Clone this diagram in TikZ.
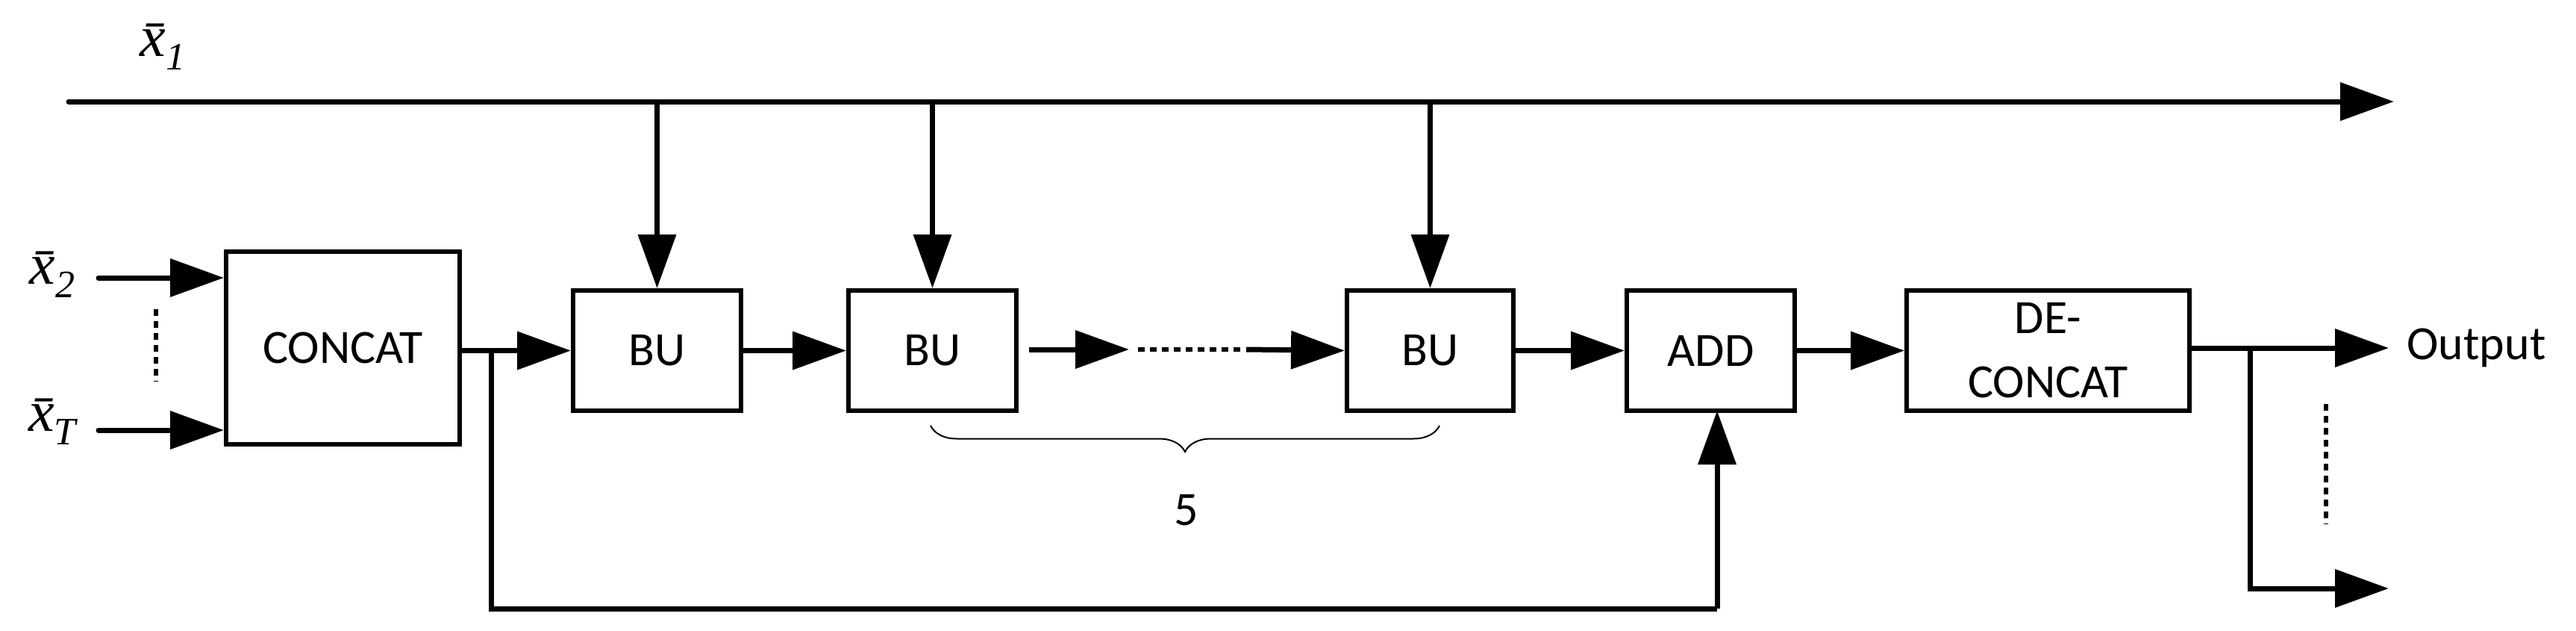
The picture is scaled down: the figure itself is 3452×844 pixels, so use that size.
\documentclass[tikz,border=0pt]{standalone}
\usepackage{fontspec}
\setmainfont{Carlito}
\newfontfamily\xserif{Liberation Serif}
\usetikzlibrary{arrows.meta,decorations.pathreplacing}
\newcommand{\xbar}[1]{{\xserif\itshape\={x}\raisebox{-18pt}{\fontsize{52}{52}\selectfont #1}}}
\begin{document}
\begin{tikzpicture}[x=1pt,y=-1pt,
  box/.style={draw,line width=6pt,minimum width=0pt,inner sep=0pt,font=\fontsize{64}{86}\selectfont,align=center},
  conn/.style={line width=7pt,-{Triangle[length=72pt,width=50pt]}},
  plain/.style={line width=7pt},
  dots/.style={line width=6pt,dash pattern=on 9pt off 7pt},
  lbl/.style={font=\fontsize{64}{70}\selectfont},
  xl/.style={font=\fontsize{78}{78}\selectfont}]
\useasboundingbox (0,0) rectangle (3452,844);
\node[box,minimum width=313pt,minimum height=258pt] (cc) at (459.5,466) {CONCAT};
\node[box,minimum width=225pt,minimum height=161pt] (bu1) at (880.5,469.5) {BU};
\node[box,minimum width=225pt,minimum height=161pt] (bu2) at (1249.5,469.5) {BU};
\node[box,minimum width=223pt,minimum height=161pt] (bu3) at (1916.5,469.5) {BU};
\node[box,minimum width=225pt,minimum height=161pt] (add) at (2292.5,469.5) {ADD};
\node[box,minimum width=379pt,minimum height=161pt] (dc) at (2744.5,469.5) {DE-\\CONCAT};
\node[lbl,anchor=west] (out) at (3222,466) {Output};
\node[xl] (x1) at (218,63) {\xbar{\itshape 1}};
\node[xl] (x2) at (70,368) {\xbar{2}};
\node[xl] (xT) at (70,565) {\xbar{\itshape T}};
\node[lbl] (five) at (1590,683) {5};
\coordinate (t0) at (92,136);
\coordinate (t1) at (3208,136);
\coordinate (a2) at (132,372);
\coordinate (aT) at (132,576);
\coordinate (br) at (658,468);
\coordinate (bl) at (658,815);
\coordinate (bl2) at (2301,815);
\coordinate (d0) at (1379,468);
\coordinate (d1) at (1513,468);
\coordinate (d2) at (1525,468);
\coordinate (d3) at (1662,468);
\coordinate (d4) at (1670,468);
\coordinate (ob) at (3015,466);
\coordinate (ob2) at (3015,788);
\coordinate (oe2) at (3201,788);
\coordinate (oe) at (3201,466);
\draw[conn,line cap=round] (t0) -- (t1);
\draw[conn] (bu1.north |- t0) -- (bu1.north);
\draw[conn] (bu2.north |- t0) -- (bu2.north);
\draw[conn] (bu3.north |- t0) -- (bu3.north);
\draw[conn,line cap=round] (a2) -- (cc.west |- a2);
\draw[conn,line cap=round] (aT) -- (cc.west |- aT);
\draw[dots] (209,414) -- (209,511);
\draw[conn] (cc.east |- bu1.west) -- (bu1.west);
\draw[conn] (bu1.east) -- (bu2.west);
\draw[conn] (d0) -- (d1);
\draw[dots] (d2) -- (d3);
\draw[conn] (d4) -- (bu3.west);
\draw[conn] (bu3.east) -- (add.west);
\draw[conn] (add.east) -- (dc.west);
\draw[plain] (br) -- (bl) -- (bl2);
\draw[conn] (bl2) -- (2301,550);
\draw[conn] (dc.east |- oe) -- (oe);
\draw[conn] (ob) -- (ob2) -- (oe2);
\draw[dots] (3117,541) -- (3117,702);
\draw[line width=2pt,decorate,decoration={brace,mirror,amplitude=35pt}] (1247,570) -- (1929,570);
\end{tikzpicture}
\end{document}
